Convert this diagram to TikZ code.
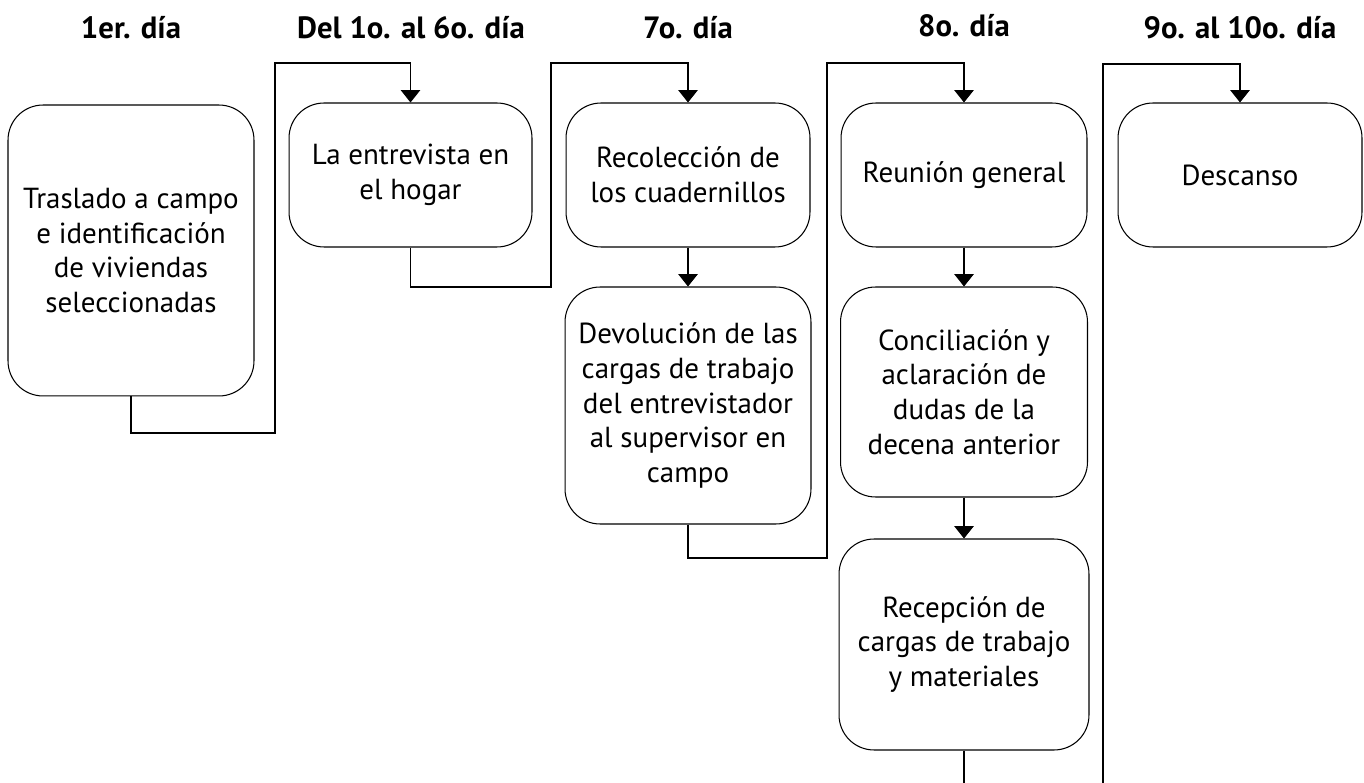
\documentclass[tikz,border=0pt]{standalone}
\usepackage{fontspec}
\setmainfont{PT Sans}
\usetikzlibrary{arrows.meta}

\tikzset{
  box/.style={draw,line width=0.6pt,rounded corners=0.7cm,align=center,
    minimum width=4.92cm,minimum height=2.88cm,
    font=\fontsize{16.5}{19.8}\selectfont},
  day/.style={font=\fontsize{17.5}{20}\selectfont\bfseries},
  flow/.style={line width=0.6pt,-{Triangle[width=11pt,length=7pt]}},
  link/.style={line width=0.6pt},
}

\begin{document}
\begin{tikzpicture}[x=0.02cm,y=-0.02cm]
\useasboundingbox (0,0) rectangle (1364,783);

% days
\node[day] (h1) at (131,28) {1er. día};
\node[day] (h2) at (411,28) {Del 1o. al 6o. día};
\node[day] (h3) at (688,28) {7o. día};
\node[day] (h4) at (964,26) {8o. día};
\node[day] (h5) at (1240,28) {9o. al 10o. día};

% tasks
\node[box,minimum height=5.82cm] (b1) at (131,250.5) {Traslado a campo\\e identificación\\de viviendas\\seleccionadas};
\node[box,minimum width=4.86cm] (b2) at (410.5,175) {La entrevista en\\el hogar};
\node[box,minimum width=4.88cm] (b3) at (688,175) {Recolección de\\los cuadernillos};
\node[box,minimum height=4.74cm] (b4) at (688,405.5) {Devolución de las\\cargas de trabajo\\del entrevistador\\al supervisor en\\campo};
\node[box] (b5) at (964,175) {Reunión general};
\node[box,minimum width=4.94cm,minimum height=4.2cm] (b6) at (964,392) {Conciliación y\\aclaración de\\dudas de la\\decena anterior};
\node[box,minimum width=5cm,minimum height=4.22cm] (b7) at (964,644.5) {Recepción de\\cargas de trabajo\\y materiales};
\node[box,minimum width=4.88cm] (b8) at (1240,175) {Descanso};

% turns between days
\coordinate (j1b) at (275,433);
\coordinate (j1t) at (275,63);
\coordinate (j2b) at (551,287);
\coordinate (j2t) at (551,63);
\coordinate (j3b) at (827,558);
\coordinate (j3t) at (827,63);
\coordinate (e7) at (964,783);
\coordinate (s8) at (1103,783);
\coordinate (j4t) at (1103,64);

\draw[flow] (b1.south) |- (j1b) -- (j1t) -| (b2.north);
\draw[flow] (b2.south) |- (j2b) -- (j2t) -| (b3.north);
\draw[flow] (b3.south) -- (b4.north);
\draw[flow] (b4.south) |- (j3b) -- (j3t) -| (b5.north);
\draw[flow] (b5.south) -- (b6.north);
\draw[flow] (b6.south) -- (b7.north);
\draw[link] (b7.south) -- (e7);
\draw[flow] (s8) -- (j4t) -| (b8.north);
\end{tikzpicture}
\end{document}
